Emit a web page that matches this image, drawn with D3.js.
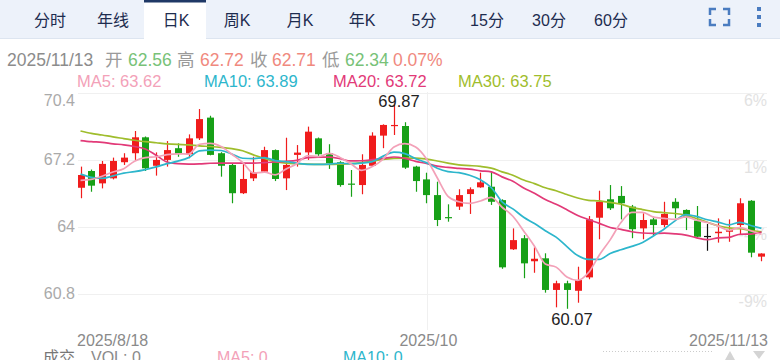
<!DOCTYPE html>
<html><head><meta charset="utf-8">
<script src="https://cdn.jsdelivr.net/npm/d3@7/dist/d3.min.js"></script>
<style>
html,body{margin:0;padding:0;background:#fff;overflow:hidden}
svg{display:block;font-family:"Liberation Sans","Noto Sans CJK SC",Arial,sans-serif}
</style></head>
<body><svg id="c" width="780" height="360"></svg>
<script>
const dates = ["2025/8/18","2025/8/19","2025/8/20","2025/8/21","2025/8/22","2025/8/25","2025/8/26","2025/8/27","2025/8/28","2025/8/29",
"2025/9/1","2025/9/2","2025/9/3","2025/9/4","2025/9/5","2025/9/8","2025/9/9","2025/9/10","2025/9/11","2025/9/12",
"2025/9/15","2025/9/16","2025/9/17","2025/9/18","2025/9/19","2025/9/22","2025/9/23","2025/9/24","2025/9/25","2025/9/26",
"2025/9/29","2025/9/30","2025/10/1","2025/10/2","2025/10/3","2025/10/6","2025/10/7","2025/10/8","2025/10/9","2025/10/10",
"2025/10/13","2025/10/14","2025/10/15","2025/10/16","2025/10/17","2025/10/20","2025/10/21","2025/10/22","2025/10/23","2025/10/24",
"2025/10/27","2025/10/28","2025/10/29","2025/10/30","2025/10/31","2025/11/3","2025/11/4","2025/11/5","2025/11/6","2025/11/7",
"2025/11/10","2025/11/11","2025/11/12","2025/11/13"];
const open = [65.85,66.65,66.06,66.30,67.07,67.50,68.26,66.90,67.18,67.74,
67.45,68.21,69.20,67.50,66.94,65.59,66.30,66.62,67.65,66.30,
67.42,67.54,68.21,67.50,67.07,66.05,65.98,66.90,68.34,68.80,
68.80,66.86,66.25,65.50,64.45,64.95,65.55,65.87,65.90,65.26,
62.91,63.44,62.34,62.48,60.97,61.29,60.93,61.57,64.42,65.30,
65.46,64.95,63.91,64.34,64.07,65.18,64.79,64.28,63.55,63.68,
63.75,64.07,65.23,62.56];
const high = [66.86,66.72,67.13,67.29,67.50,68.56,68.30,67.54,68.08,67.97,
68.40,69.61,69.29,67.55,67.00,67.02,67.33,67.81,67.68,68.24,
67.89,68.77,68.25,67.93,67.12,66.70,67.45,68.50,68.88,69.87,
68.98,66.90,66.57,66.14,65.06,65.78,65.87,66.57,66.62,65.30,
63.91,63.59,63.01,62.72,61.41,61.41,62.08,64.50,65.71,65.98,
65.93,65.03,64.63,64.47,65.18,65.35,64.82,64.98,64.12,64.39,
64.34,65.35,65.26,62.72];
const low = [65.35,65.66,65.82,66.25,66.94,67.18,66.65,66.43,66.86,67.33,
67.26,68.13,67.40,66.38,65.11,65.55,66.17,66.58,66.17,65.74,
66.86,67.18,67.33,66.75,65.90,65.42,65.54,66.86,67.74,68.37,
66.75,65.66,65.11,64.02,64.23,64.79,64.60,65.85,65.03,61.98,
62.88,61.53,61.79,60.84,60.14,60.07,60.36,61.48,63.39,64.79,
64.34,63.44,63.39,63.55,63.96,64.39,63.83,63.48,62.84,63.23,
63.27,63.64,62.53,62.34];
const close = [66.46,65.95,66.99,67.13,67.29,68.26,66.78,67.18,67.65,67.46,
68.21,69.13,67.42,66.90,65.59,66.27,66.59,67.65,66.27,66.94,
67.53,68.53,67.45,67.02,65.98,66.00,66.94,68.34,68.85,68.85,
66.81,66.17,65.50,64.31,64.40,65.50,65.78,66.11,65.18,62.05,
63.35,62.24,62.46,60.97,61.29,60.97,61.44,64.34,65.18,64.87,
65.11,63.87,64.31,64.07,64.60,64.87,64.44,63.51,63.55,63.75,
63.83,65.11,62.75,62.71];
const ma5 = [66.20,66.25,66.40,66.60,66.76,67.12,67.29,67.33,67.43,67.47,
67.46,67.93,67.97,67.82,67.45,67.06,66.55,66.60,66.47,66.74,
67.00,67.38,67.34,67.49,67.30,67.00,66.68,66.86,67.22,67.80,
67.96,67.80,67.24,66.33,65.44,65.18,65.10,65.22,65.39,64.92,
64.49,63.79,63.06,62.21,62.06,61.59,61.43,61.80,62.64,63.36,
64.19,64.67,64.67,64.45,64.39,64.34,64.46,64.30,64.19,64.02,
63.82,63.95,63.80,63.63];
const ma10 = [66.50,66.35,66.30,66.42,66.55,66.62,66.72,66.85,67.00,67.12,
67.29,67.61,67.65,67.63,67.46,67.26,67.24,67.29,67.15,67.10,
67.03,66.97,66.97,66.98,67.02,67.00,67.03,67.10,67.36,67.55,
67.48,67.24,67.05,66.78,66.62,66.57,66.45,66.23,65.86,65.18,
64.84,64.44,64.14,63.80,63.49,63.04,62.61,62.43,62.43,62.71,
62.89,63.05,63.24,63.55,63.88,64.27,64.57,64.48,64.32,64.21,
64.08,64.20,64.05,63.91];
const ma20 = [68.10,68.05,68.02,67.95,67.90,67.82,67.70,67.40,67.08,67.00,
66.98,66.99,67.02,67.03,67.03,67.03,67.03,67.05,67.08,67.11,
67.16,67.29,67.31,67.31,67.24,67.13,67.14,67.19,67.25,67.32,
67.25,67.11,67.01,66.88,66.82,66.78,66.74,66.66,66.61,66.37,
66.16,65.84,65.59,65.29,65.06,64.80,64.53,64.33,64.15,63.95,
63.86,63.75,63.69,63.67,63.68,63.65,63.59,63.46,63.37,63.46,
63.48,63.63,63.64,63.73];
const ma30 = [68.56,68.45,68.37,68.28,68.20,68.12,68.05,68.00,67.95,67.92,
67.90,67.85,67.82,67.78,67.72,67.62,67.42,67.25,67.10,67.03,
67.00,66.98,66.97,66.97,66.98,67.00,67.05,67.12,67.20,67.25,
67.27,67.27,67.22,67.13,67.03,66.94,66.91,66.87,66.79,66.61,
66.45,66.22,66.05,65.85,65.71,65.53,65.36,65.25,65.22,65.15,
65.07,64.91,64.81,64.71,64.66,64.62,64.54,64.38,64.20,64.03,
63.93,63.90,63.81,63.75];
const yTicks = [70.4, 67.2, 64, 60.8];
const pctTicks = ["6%", "1%", "-4%", "-9%"];
const xTickIdx = [0, 32, 63];
const xTickLabels = ["2025/8/18", "2025/10", "2025/11/13"];
const tabs = ["分时","年线","日K","周K","月K","年K","5分","15分","30分","60分"];
const tabX = [50,113,176,237,300,362,424,487,549,611];
const maNames = ["MA5","MA10","MA20","MA30"];
const maLast = ["63.62","63.89","63.72","63.75"];

const C = {red:"#f01c1c", green:"#17a017", ma5:"#f3a1b8", ma10:"#2db6cc", ma20:"#e23a78", ma30:"#9fbd2c"};
const svg = d3.select("#c");

// tab bar
svg.append("rect").attr("x",0).attr("y",0).attr("width",780).attr("height",38).attr("fill","#edf2fa");
svg.append("line").attr("x1",0).attr("x2",780).attr("y1",38.5).attr("y2",38.5).attr("stroke","#dde5f0");
svg.append("rect").attr("x",144).attr("y",0).attr("width",62).attr("height",39).attr("fill","#fff");
svg.append("rect").attr("x",144).attr("y",0).attr("width",62).attr("height",2.5).attr("fill","#1f3866");
svg.selectAll("text.tab").data(tabs).join("text").attr("class","tab")
  .attr("x",(d,i)=>tabX[i]).attr("y",26).attr("text-anchor","middle")
  .attr("font-size",16).attr("fill","#1d2c4f").text(d=>d);
// fullscreen icon
const ic = svg.append("g").attr("fill","none").attr("stroke","#4a7cc0").attr("stroke-width",2.5);
[[710,9,1,1],[729,9,-1,1],[710,25,1,-1],[729,25,-1,-1]].forEach(([x,y,sx,sy])=>{
  ic.append("path").attr("d",`M${x},${y+6*sy}V${y}H${x+6*sx}`);
});
[9,17,25].forEach(y=>svg.append("rect").attr("x",757).attr("y",y-2).attr("width",4).attr("height",4).attr("fill","#4a7cc0"));

// info line
const info = [["2025/11/13",7,"#8c8c8c"],["开",105,"#9a9a9a"],["62.56",128,"#78c278"],["高",177,"#9a9a9a"],["62.72",200,"#f0897e"],
  ["收",250,"#9a9a9a"],["62.71",272,"#f0897e"],["低",322,"#9a9a9a"],["62.34",345,"#78c278"],["0.07%",393,"#f0897e"]];
svg.selectAll("text.info").data(info).join("text").attr("class","info")
  .attr("x",d=>d[1]).attr("y",66).attr("font-size",17.5).attr("fill",d=>d[2]).text(d=>d[0]);
// MA legend
const legX = [77,204,333,458];
const maCols = [C.ma5,C.ma10,C.ma20,C.ma30];
svg.selectAll("text.leg").data(maNames).join("text").attr("class","leg")
  .attr("x",(d,i)=>legX[i]).attr("y",87).attr("font-size",16.5).attr("fill",(d,i)=>maCols[i])
  .text((d,i)=>d+": "+maLast[i]);

// scales
const x = d3.scaleBand().domain(d3.range(dates.length)).range([77,765]).paddingInner(0.35).paddingOuter(0);
const cx = i => x(i) + x.bandwidth()/2;
const y = d3.scaleLinear().domain([60.8,70.4]).range([293.5,92.5]);

// grid
svg.selectAll("line.gy").data(yTicks).join("line").attr("class","gy")
  .attr("x1",78).attr("x2",767).attr("y1",d=>Math.round(y(d))+0.5).attr("y2",d=>Math.round(y(d))+0.5)
  .attr("stroke","#f0f0f0");
svg.append("line").attr("x1",Math.round(cx(32))+1.5).attr("x2",Math.round(cx(32))+1.5).attr("y1",92).attr("y2",330).attr("stroke","#f0f0f0");
// left labels
svg.selectAll("text.yl").data(yTicks).join("text").attr("class","yl")
  .attr("x",75).attr("y",d=>Math.max(y(d),100)).attr("dy","0.35em").attr("text-anchor","end")
  .attr("font-size",16).attr("fill","#aaaaaa").text(d=>d);
// right labels
svg.selectAll("text.yr").data(yTicks).join("text").attr("class","yr")
  .attr("x",767).attr("y",(d,i)=>y(d)+7.5).attr("dy","0.35em").attr("text-anchor","end")
  .attr("font-size",16).attr("fill","#e2e2e2").text((d,i)=>pctTicks[i]);

// candles
const col = i => close[i]>open[i]?C.red:(close[i]<open[i]?C.green:"#111");
const cg = svg.append("g");
cg.selectAll("line.wick").data(d3.range(dates.length)).join("line").attr("class","wick")
  .attr("x1",i=>Math.round(cx(i))+0.5).attr("x2",i=>Math.round(cx(i))+0.5)
  .attr("y1",i=>y(high[i])).attr("y2",i=>y(low[i])).attr("stroke",col).attr("stroke-width",1.2);
cg.selectAll("rect.body").data(d3.range(dates.length)).join("rect").attr("class","body")
  .attr("x",i=>Math.round(cx(i))+0.5-3.5).attr("width",7)
  .attr("y",i=>y(Math.max(open[i],close[i])))
  .attr("height",i=>Math.max(1.2,Math.abs(y(open[i])-y(close[i]))))
  .attr("fill",col);

// MA lines
const line = d3.line().x((d,i)=>cx(i)).y(d=>y(d)).curve(d3.curveMonotoneX);
[ma30,ma20,ma10,ma5].forEach((arr,k)=>{
  const c=[C.ma30,C.ma20,C.ma10,C.ma5][k];
  svg.append("path").attr("d",line(arr)).attr("fill","none").attr("stroke",c).attr("stroke-width",1.7);
});

// high / low annotations
const hi = d3.maxIndex(high), lo = d3.minIndex(low);
svg.append("text").attr("x",cx(hi)+5).attr("y",y(high[hi])-2.5).attr("dy","0.35em").attr("text-anchor","middle")
  .attr("font-size",16.5).attr("fill","#222").text(high[hi].toFixed(2));
svg.append("text").attr("x",cx(lo)+5).attr("y",y(low[lo])+10).attr("dy","0.35em").attr("text-anchor","middle")
  .attr("font-size",16.5).attr("fill","#222").text(low[lo].toFixed(2));

// x labels
const anch = ["start","middle","end"];
svg.selectAll("text.xl").data(xTickIdx).join("text").attr("class","xl")
  .attr("x",(d,i)=> i===0?77:(i===2?768:cx(d)+2)).attr("y",346).attr("text-anchor",(d,i)=>anch[i])
  .attr("font-size",16).attr("fill","#8a8a8a").text((d,i)=>xTickLabels[i]);

// bottom volume header (cut off)
svg.append("text").attr("x",43).attr("y",363).attr("font-size",16).attr("fill","#777").text("成交");
svg.append("text").attr("x",91).attr("y",363).attr("font-size",16).attr("fill","#8a8a8a").text("VOL: 0");
svg.append("text").attr("x",217).attr("y",363).attr("font-size",16).attr("fill",C.ma5).text("MA5: 0");
svg.append("text").attr("x",343).attr("y",363).attr("font-size",16).attr("fill",C.ma10).text("MA10: 0");
svg.append("line").attr("x1",603).attr("x2",712).attr("y1",351.5).attr("y2",351.5).attr("stroke","#ccc").attr("stroke-dasharray","1,2");
svg.append("path").attr("d","M725,360L730,351L735,360Z").attr("fill","#d4d4d4");
svg.append("path").attr("d","M753,351L765,351L759,359Z").attr("fill","#d4d4d4");
</script></body></html>
